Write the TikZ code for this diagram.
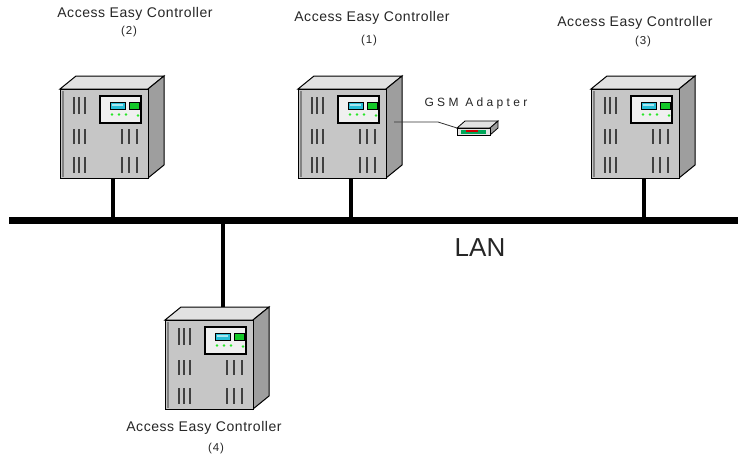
\documentclass[tikz,border=0pt]{standalone}
\usepackage{fontspec}
\setmainfont{Liberation Sans}

\definecolor{cabfront}{RGB}{198,198,198}
\definecolor{cabtop}{RGB}{226,226,226}
\definecolor{cabside}{RGB}{158,158,158}
\definecolor{cabshade}{RGB}{130,130,130}
\definecolor{lcdblue}{RGB}{40,190,215}
\definecolor{lcdgreen}{RGB}{20,200,40}
\definecolor{ledgreen}{RGB}{40,230,40}

\tikzset{
  bus/.style={fill=black, inner sep=0pt, minimum height=7pt},
  drop/.style={line width=4pt},
  link/.style={line width=0.8pt, black!80},
  caption/.style={font={\fontsize{14}{16}\selectfont\addfontfeature{LetterSpace=4}}, text=black!85, inner sep=0pt},
  number/.style={font={\fontsize{11.5}{13}\selectfont\addfontfeature{LetterSpace=8}}, text=black!85, inner sep=0pt},
  slit/.style={line width=2pt, black!75},
  cabinet/.pic={
    % top and side faces
    \draw[line width=1pt, fill=cabtop] (0,0) -- (16,-13) -- (104,-13) -- (88,0) -- cycle;
    \draw[line width=1pt, fill=cabside] (88,0) -- (104,-13) -- (104,76) -- (88,89) -- cycle;
    % front face
    \node[draw, line width=1.4pt, fill=cabfront, minimum width=88pt, minimum height=89pt,
          inner sep=0pt, anchor=north west] (-front) at (0,0) {};
    \fill[cabshade] (1.5,1.5) rectangle (4,87.5);
    % vent slits
    \foreach \sx in {14,19,25}
      \foreach \sy/\ey in {8/25, 40/55, 68/84}
        \draw[slit] (\sx,\sy) -- (\sx,\ey);
    \foreach \sx in {62,69,77}
      \foreach \sy/\ey in {40/55, 68/84}
        \draw[slit] (\sx,\sy) -- (\sx,\ey);
    % display panel
    \draw[line width=1.2pt, fill=black!6] (40,7) rectangle (81,34);
    \draw[line width=0.8pt, fill=lcdblue] (50,13) rectangle (65,20);
    \fill[white!60!lcdblue] (52,15) rectangle (63,17);
    \draw[line width=0.8pt, fill=lcdgreen] (69,13) rectangle (79,20);
    \foreach \lx in {52,59,66}
      \fill[ledgreen] (\lx,25.5) circle (1.4pt);
    \fill[ledgreen] (78,26.5) circle (1.4pt);
    % cable ends
    \coordinate (-tap) at (53,89);
    \coordinate (-up) at (58,-13);
    \coordinate (-port) at (96,33);
  }
}

\begin{document}
\begin{tikzpicture}[x=1pt, y=-1pt]
  \useasboundingbox[fill=white] (0,0) rectangle (738,459);

  % LAN backbone
  \node[bus, minimum width=729pt, anchor=west] (bus) at (9,220.5) {};
  \node[font=\fontsize{26}{30}\selectfont, text=black!85] (lan) at (480,248) {LAN};

  % Controller 2
  \node[caption] (name2) at (135,14) {Access Easy Controller};
  \node[number] (num2) at (129,32) {(2)};
  \pic (c2) at (60,89) {cabinet};
  \draw[drop] (c2-tap) -- (c2-tap |- bus.north);

  % Controller 1 with GSM adapter
  \node[caption] (name1) at (372,18) {Access Easy Controller};
  \node[number] (num1) at (369,41) {(1)};
  \pic (c1) at (298,89) {cabinet};
  \draw[drop] (c1-tap) -- (c1-tap |- bus.north);

  \node[font={\fontsize{12}{14}\selectfont\addfontfeature{LetterSpace=28}}, text=black!85,
        inner sep=0pt] (gsmlabel) at (476,103) {GSM Adapter};
  \draw[line width=0.8pt, fill=cabtop] (457,128) -- (465,121) -- (498,121) -- (490,128) -- cycle;
  \draw[line width=0.8pt, fill=cabside] (490,128) -- (498,121) -- (498,128) -- (490,135) -- cycle;
  \node[draw, line width=0.8pt, fill=black!10, minimum width=33pt, minimum height=7pt,
        inner sep=0pt, anchor=north west] (gsm) at (457,128) {};
  \fill[teal!70!green] (461,130) rectangle (486,133.5);
  \fill[red!80!black] (466,130) rectangle (478,131.5);
  \draw[link] (c1-port) -- ++(44,0) -- (gsm.north west);

  % Controller 3
  \node[caption] (name3) at (635,23) {Access Easy Controller};
  \node[number] (num3) at (643,42) {(3)};
  \pic (c3) at (591,89) {cabinet};
  \draw[drop] (c3-tap) -- (c3-tap |- bus.north);

  % Controller 4
  \pic (c4) at (165,320) {cabinet};
  \draw[drop] (c4-up) -- (c4-up |- bus.south);
  \node[caption] (name4) at (204,428) {Access Easy Controller};
  \node[number] (num4) at (216,449) {(4)};
\end{tikzpicture}
\end{document}
